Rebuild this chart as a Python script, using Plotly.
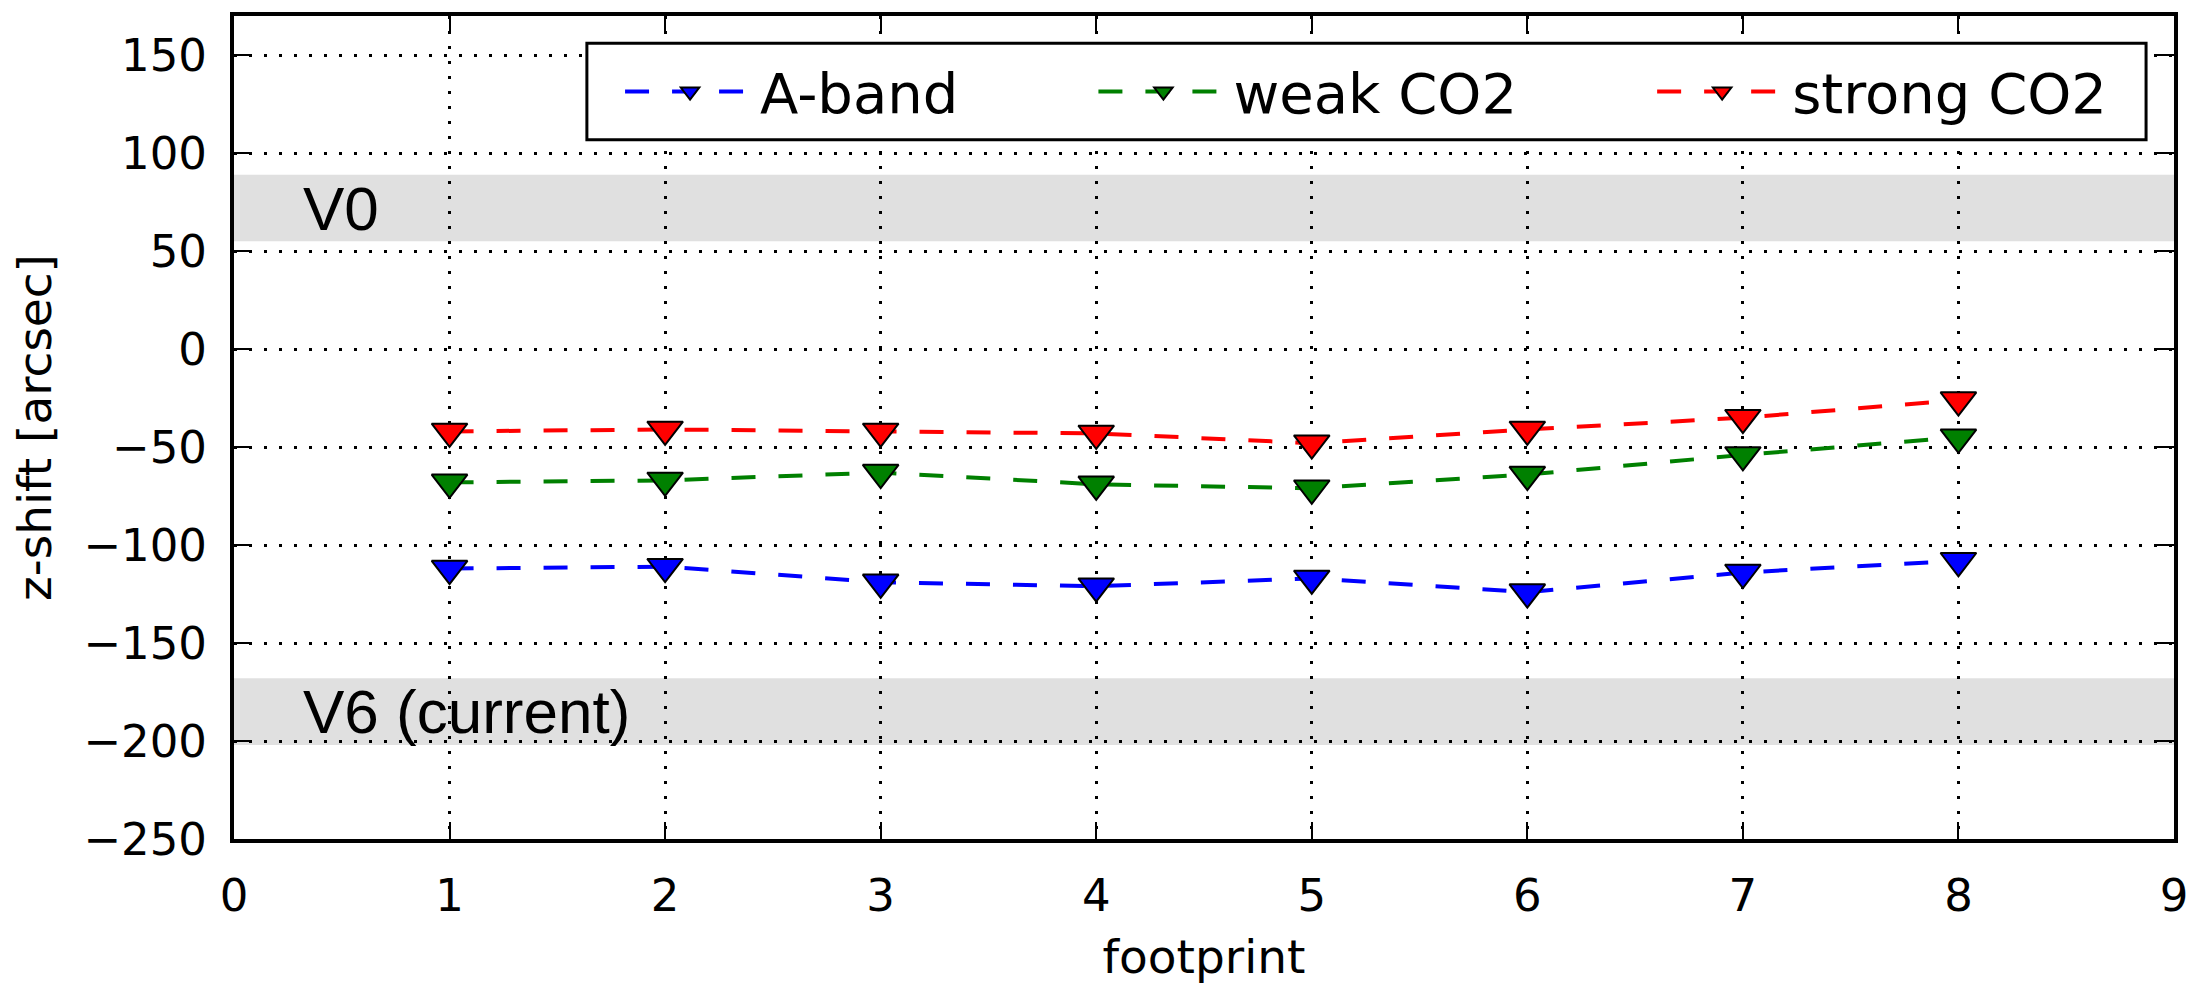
import plotly.graph_objects as go

# Footprint index and z-shift per spectral band (arcsec)
footprints = [1, 2, 3, 4, 5, 6, 7, 8]
a_band = [-112, -111, -119, -121, -117, -124, -114, -108]
weak_co2 = [-68, -67, -63, -69, -71, -64, -54, -45]
strong_co2 = [-42, -41, -42, -43, -48, -41, -35, -26]

series_names = ["A-band", "weak CO2", "strong CO2"]
series_colors = ["#0000ff", "#008000", "#ff0000"]

# Reference bands for earlier calibration versions (z-shift limits)
band_labels = ["V0", "V6 (current)"]
band_low = [55, -202]
band_high = [89, -168]

x_ticks = [0, 1, 2, 3, 4, 5, 6, 7, 8, 9]
y_ticks = [-250, -200, -150, -100, -50, 0, 50, 100, 150]

fig = go.Figure()

legend_ids = ["legend", "legend2", "legend3"]
for name, vals, color, lg in zip(series_names, [a_band, weak_co2, strong_co2],
                                 series_colors, legend_ids):
    fig.add_trace(go.Scatter(
        x=footprints, y=vals, name=name, mode="lines+markers",
        line=dict(color=color, width=4, dash="24px,23px"),
        marker=dict(symbol="triangle-down", size=31, color=color,
                    line=dict(color="black", width=2)),
        legend=lg, showlegend=True,
    ))

# Shaded calibration bands with their labels
for lab, lo, hi in zip(band_labels, band_low, band_high):
    fig.add_shape(type="rect", xref="paper", yref="y", x0=0, x1=1, y0=lo, y1=hi,
                  fillcolor="rgba(211,211,211,0.7)", line=dict(width=0),
                  layer="between")
    fig.add_annotation(x=0.31, y=(lo + hi) / 2, xref="x", yref="y", text=lab,
                       showarrow=False, xanchor="left", yanchor="middle",
                       font=dict(family="Liberation Sans, Arial", size=62, color="black"))

# Legend frame
fig.add_shape(type="rect", xref="paper", yref="paper",
              x0=0.1819, x1=0.9856, y0=0.8497, y1=0.9669,
              fillcolor="white", line=dict(color="black", width=3), layer="above")

legend_common = dict(orientation="h", xanchor="left", yanchor="middle", y=0.908,
                     bgcolor="rgba(0,0,0,0)", borderwidth=0, itemwidth=130,
                     font=dict(family="DejaVu Sans", size=56, color="black"))

axis_common = dict(
    showline=True, linewidth=4, linecolor="black", mirror="ticks",
    ticks="inside", ticklen=17, tickwidth=2, tickcolor="black",
    showgrid=True, gridcolor="black", gridwidth=2.5, griddash="3px,12px",
    zeroline=False, tickfont=dict(family="DejaVu Sans", size=45, color="black"),
    ticklabelstandoff=14,
)

fig.update_layout(
    width=2200, height=987,
    margin=dict(l=234, r=17, t=12, b=126),
    paper_bgcolor="white", plot_bgcolor="white",
    showlegend=True,
    xaxis=dict(range=[0, 9], tickvals=x_ticks,
               title=dict(text="footprint", standoff=20,
                          font=dict(family="DejaVu Sans", size=47, color="black")),
               **axis_common),
    yaxis=dict(range=[-250, 170], tickvals=y_ticks,
               title=dict(text="z-shift [arcsec]", standoff=18,
                          font=dict(family="DejaVu Sans", size=47, color="black")),
               **axis_common),
    legend=dict(x=0.1990, **legend_common),
    legend2=dict(x=0.4430, **legend_common),
    legend3=dict(x=0.7310, **legend_common),
)

fig.write_html("out.html")
